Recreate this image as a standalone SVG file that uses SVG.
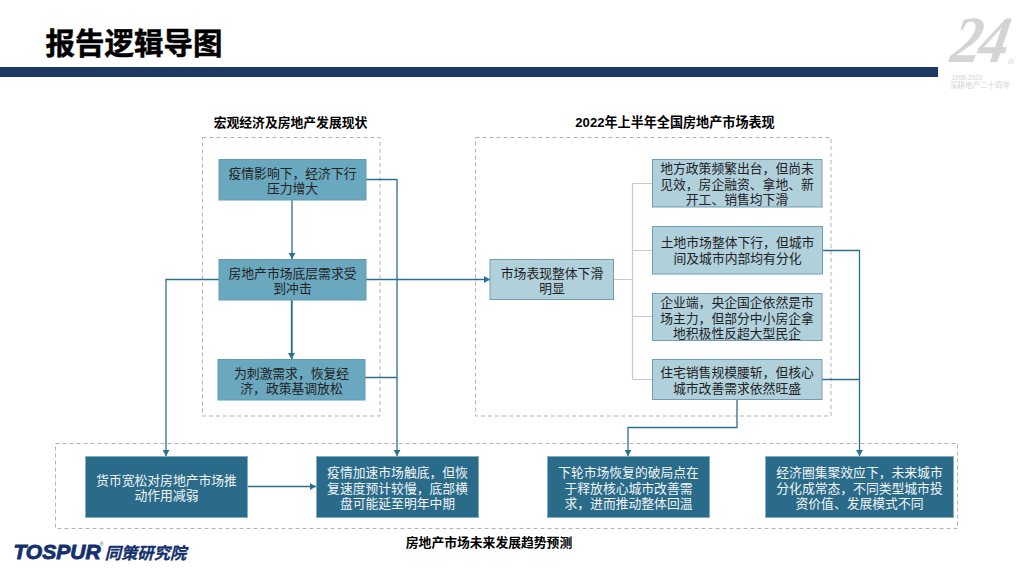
<svg xmlns="http://www.w3.org/2000/svg" width="1024" height="576" viewBox="0 0 1024 576">
<style>
text{font-family:"Liberation Sans","Noto Sans CJK SC",sans-serif;text-anchor:middle}
.t{font-size:12.8px;fill:#222}
.w{font-size:12.8px;fill:#f2f6f8}
.h{font-size:12.8px;font-weight:700;fill:#000}
.m{fill:#6aa8bf;stroke:#5f9cb4;stroke-width:1}
.l{fill:#b0d0dc;stroke:#6f9fb5;stroke-width:1}
.d{fill:#2b6b8a;stroke:#7fb0c4;stroke-width:1}
.g{fill:none;stroke:#b3b3b3;stroke-width:1;stroke-dasharray:4 3}
.c{fill:none;stroke:#2d6f8e;stroke-width:1.3}
.b{fill:none;stroke:#c9c9c9;stroke-width:1.2}
</style>
<defs><marker id="a" markerUnits="userSpaceOnUse" markerWidth="7" markerHeight="7" refX="6" refY="3.5" orient="auto"><path d="M0 0L6 3.5L0 7z" fill="#2d6f8e"/></marker></defs>

<g id="header">
<text x="134" y="54" style="font-size:29.5px;font-weight:700;stroke:#000;stroke-width:.5" fill="#000">报告逻辑导图</text>
<rect x="0" y="67" width="938" height="10" fill="#1f3864"/>
</g>
<g id="watermark" fill="#d4d4d4">
<text transform="translate(949,62) skewX(-10) scale(1,1.1)" style="font-family:'Liberation Serif',serif;font-size:60px;font-style:italic;font-weight:700;letter-spacing:-3px;text-anchor:start">24</text>
<text x="1011" y="64" style="font-family:'Liberation Serif',serif;font-size:8px;font-style:italic">th</text>
<text x="967" y="80" style="font-size:6.5px">1998-2022</text>
<text x="980" y="88" style="font-size:7.6px">深耕地产二十四年</text>
</g>

<g id="frames">
<rect class="g" x="202.5" y="137.5" width="177.5" height="278.5"/>
<rect class="g" x="475.5" y="137.5" width="355.5" height="278.5"/>
<rect class="g" x="55.5" y="443.5" width="902" height="85"/>
<text class="h" x="290.5" y="127">宏观经济及房地产发展现状</text>
<text class="h" x="675" y="127" style="font-size:13.100px">2022年上半年全国房地产市场表现</text>
<text class="h" x="489" y="547">房地产市场未来发展趋势预测</text>
</g>

<g id="connectors">
<path class="b" d="M613.5 279.5H632.5M632.5 183.5V379.5M632.5 183.5H652M632.5 250.5H652M632.5 316.5H652M632.5 379.5H652"/>
<path class="c" d="M292 200V259" marker-end="url(#a)"/>
<path class="c" d="M292 300V377.5H397"/>
<path class="c" d="M291.500 300V359" marker-end="url(#a)"/>
<path class="c" d="M366 179.5H397V456" marker-end="url(#a)"/>
<path class="c" d="M366 279.5H490" marker-end="url(#a)"/>
<path class="c" d="M219 279.5H166V456" marker-end="url(#a)"/>
<path class="c" d="M247 486.5H316" marker-end="url(#a)"/>
<path class="c" d="M822 250.5H859.5V456" marker-end="url(#a)"/>
<path class="c" d="M822 379.5H859.5"/>
<path class="c" d="M737 399V427.5H628V456" marker-end="url(#a)"/>
</g>

<g id="n1"><rect class="m" x="219" y="159.5" width="147" height="40.5"/><text class="t" x="292.5" y="177.500">疫情影响下，经济下行</text><text class="t" x="292.5" y="192.500">压力增大</text></g>
<g id="n2"><rect class="m" x="219" y="259.5" width="147" height="40.5"/><text class="t" x="292.500" y="277.500">房地产市场底层需求受</text><text class="t" x="292.500" y="292.500">到冲击</text></g>
<g id="n3"><rect class="m" x="218" y="359.500" width="147" height="40.5"/><text class="t" x="291.500" y="377.500">为刺激需求，恢复经</text><text class="t" x="291.500" y="392.500">济，政策基调放松</text></g>
<g id="n4"><rect class="l" x="490" y="259.5" width="123.500" height="40"/><text class="t" x="552" y="277.500">市场表现整体下滑</text><text class="t" x="552" y="292.500">明显</text></g>
<g id="n5"><rect class="l" x="652.500" y="159.500" width="169.500" height="47.500"/><text class="t" x="737" y="173">地方政策频繁出台，但尚未</text><text class="t" x="737" y="188.500">见效，房企融资、拿地、新</text><text class="t" x="737" y="204">开工、销售均下滑</text></g>
<g id="n6"><rect class="l" x="652.500" y="226.500" width="170" height="47.500"/><text class="t" x="737.500" y="247">土地市场整体下行，但城市</text><text class="t" x="737.500" y="262.500">间及城市内部均有分化</text></g>
<g id="n7"><rect class="l" x="652.500" y="293.500" width="169.500" height="47"/><text class="t" x="737" y="307">企业端，央企国企依然是市</text><text class="t" x="737" y="322.500">场主力，但部分中小房企拿</text><text class="t" x="737" y="338">地积极性反超大型民企</text></g>
<g id="n8"><rect class="l" x="652.500" y="359.500" width="169.500" height="40"/><text class="t" x="737" y="377">住宅销售规模腰斩，但核心</text><text class="t" x="737" y="392.500">城市改善需求依然旺盛</text></g>
<g id="n9"><rect class="d" x="85.500" y="456.500" width="162" height="61"/><text class="w" x="166.500" y="484.500">货币宽松对房地产市场推</text><text class="w" x="166.500" y="500">动作用减弱</text></g>
<g id="n10"><rect class="d" x="316.500" y="456.500" width="162" height="61"/><text class="w" x="397.500" y="477">疫情加速市场触底，但恢</text><text class="w" x="397.500" y="492.500">复速度预计较慢，底部横</text><text class="w" x="397.500" y="508">盘可能延至明年中期</text></g>
<g id="n11"><rect class="d" x="547.500" y="456.500" width="162" height="61"/><text class="w" x="628.500" y="477">下轮市场恢复的破局点在</text><text class="w" x="628.500" y="492.500">于释放核心城市改善需</text><text class="w" x="628.500" y="508">求，进而推动整体回温</text></g>
<g id="n12"><rect class="d" x="765.500" y="456.500" width="188" height="61"/><text class="w" x="859.500" y="477">经济圈集聚效应下，未来城市</text><text class="w" x="859.500" y="492.500">分化成常态，不同类型城市投</text><text class="w" x="859.500" y="508">资价值、发展模式不同</text></g>

<g id="logo" fill="#14306e">
<text x="57" y="559" style="font-size:21px;font-weight:700;font-style:italic;stroke:#14306e;stroke-width:.9">TOSPUR</text>
<text x="145.500" y="559" style="font-size:16.300px;font-weight:700;font-style:italic;stroke:#14306e;stroke-width:.3">同策研究院</text>
<text x="101.500" y="546" style="font-size:5px" fill="#555">®</text>
</g>
</svg>
